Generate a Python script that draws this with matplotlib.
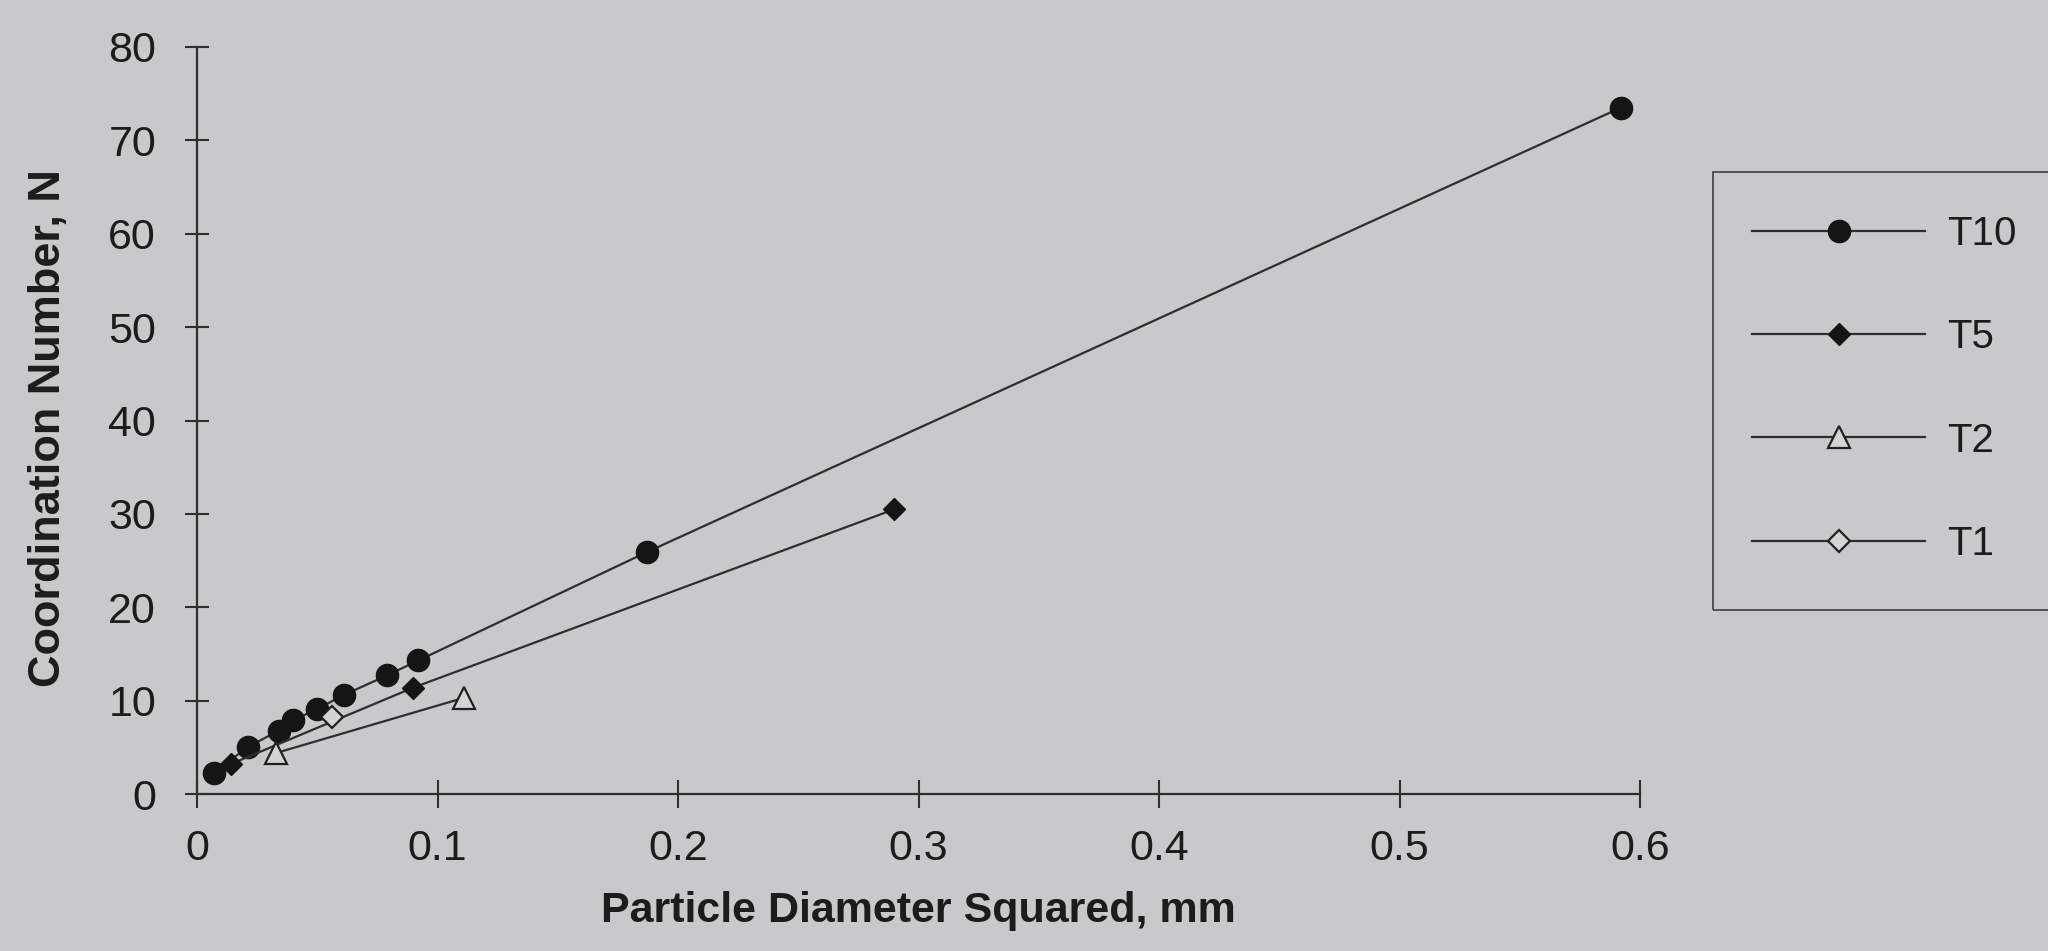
import matplotlib.pyplot as plt
from matplotlib.patches import Rectangle

# Datos (diámetro de partícula al cuadrado vs número de coordinación)
t10_x = [0.007, 0.021, 0.034, 0.040, 0.050, 0.061, 0.079, 0.092, 0.187, 0.592]
t10_y = [2.3, 5.0, 6.8, 7.9, 9.1, 10.6, 12.7, 14.3, 25.9, 73.5]

t5_x = [0.014, 0.090, 0.290]
t5_y = [3.2, 11.4, 30.5]

t2_x = [0.033, 0.111]
t2_y = [4.4, 10.3]

t1_x = [0.056]
t1_y = [8.2]

x_ticks = [0, 0.1, 0.2, 0.3, 0.4, 0.5, 0.6]
x_tick_labels = ['0', '0.1', '0.2', '0.3', '0.4', '0.5', '0.6']
y_ticks = [0, 10, 20, 30, 40, 50, 60, 70, 80]

fondo = '#c9c9cb'
tinta = '#1c1c1c'
linea = '#2e2e2e'

plt.rcParams['font.family'] = ['Liberation Sans', 'DejaVu Sans']

fig = plt.figure(figsize=(20.48, 9.51), dpi=100, facecolor=fondo)
ax = fig.add_axes([197 / 2048, 1 - 794 / 951, 1443 / 2048, 747 / 951])
ax.set_facecolor(fondo)

ax.plot(t10_x, t10_y, color=linea, lw=1.6, marker='o', ms=16,
        mfc='#151515', mec='#151515', label='T10')
ax.plot(t5_x, t5_y, color=linea, lw=1.6, marker='D', ms=11,
        mfc='#151515', mec='#151515', label='T5')
ax.plot(t2_x, t2_y, color=linea, lw=1.6, marker='^', ms=16,
        mfc='#d4d4d6', mec='#202020', mew=1.6, label='T2')
ax.plot(t1_x, t1_y, color=linea, lw=1.6, marker='D', ms=11,
        mfc='#d4d4d6', mec='#202020', mew=1.6, label='T1')

ax.set_xlim(0, 0.6)
ax.set_ylim(0, 80)
ax.set_xticks(x_ticks)
ax.set_xticklabels(x_tick_labels)
ax.set_yticks(y_ticks)

for lado in ['top', 'right']:
    ax.spines[lado].set_visible(False)
for lado in ['left', 'bottom']:
    ax.spines[lado].set_color(linea)
    ax.spines[lado].set_linewidth(1.6)

ax.tick_params(axis='y', direction='inout', length=17, width=1.5, color=linea,
               pad=21, labelsize=31, labelcolor=tinta)
ax.tick_params(axis='x', direction='inout', length=20, width=1.5, color=linea,
               pad=15, labelsize=31, labelcolor=tinta)

ax.set_xlabel('Particle Diameter Squared, mm', fontsize=31, fontweight='bold', color=tinta)
ax.set_ylabel('Coordination Number, N', fontsize=32.5, fontweight='bold', color=tinta)
ax.xaxis.set_label_coords(0.5, -0.130)
ax.yaxis.set_label_coords(-0.089, 0.490)

# Leyenda fuera del área del gráfico, con su recuadro
caja = Rectangle((1713 / 2048, 1 - 610 / 951), 360 / 2048, 438 / 951,
                 transform=fig.transFigure, facecolor='none',
                 edgecolor='#4a4a4a', lw=1.3)
fig.patches.append(caja)

fig.legend(loc='upper left', bbox_to_anchor=(1752 / 2048, 1 - 215 / 951),
           frameon=False, fontsize=29, handlelength=4.3, handletextpad=0.55,
           labelspacing=1.62, borderpad=0, borderaxespad=0, numpoints=1,
           labelcolor=tinta)

fig.savefig('out.png', dpi=100, facecolor=fondo)
